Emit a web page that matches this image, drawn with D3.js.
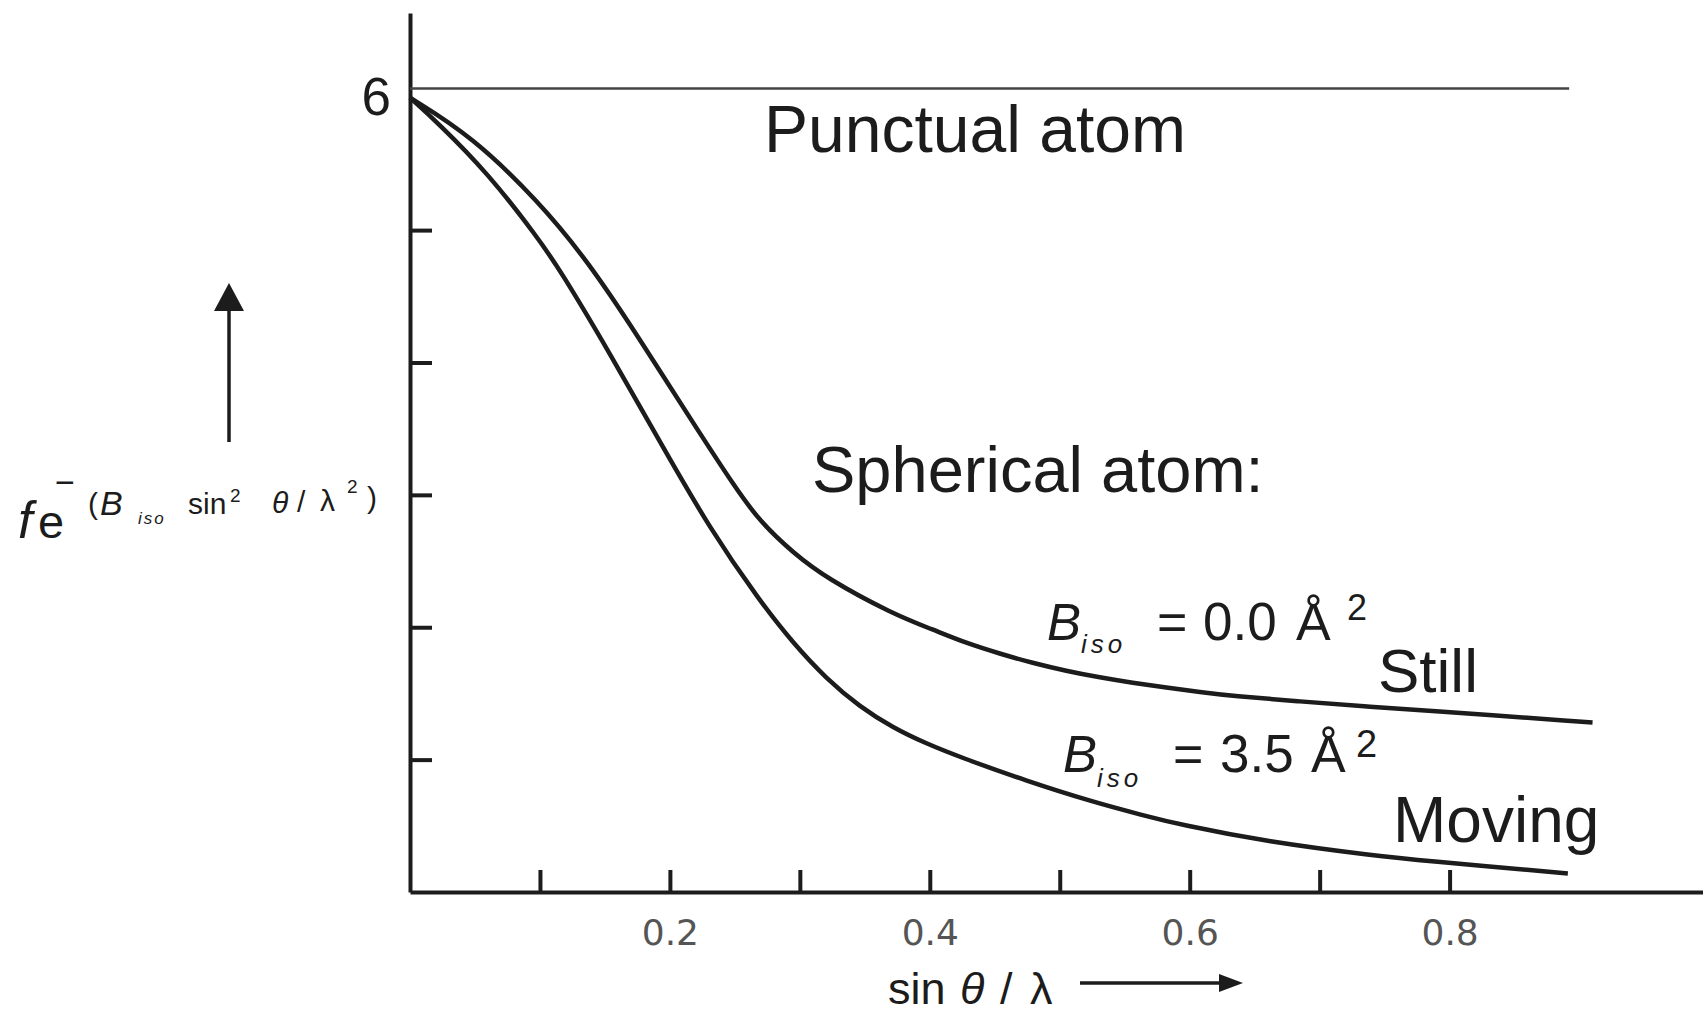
<!DOCTYPE html>
<html>
<head>
<meta charset="utf-8">
<script src="https://cdnjs.cloudflare.com/ajax/libs/d3/7.8.5/d3.min.js"></script>
<style>
  body { margin: 0; background: #fff; }
  svg { display: block; font-family: "Liberation Sans", Arial, sans-serif; }
</style>
</head>
<body>
<div class="chart"></div>
<script>
// values (x = sin theta / lambda, y = f e^-(B sin^2/l^2))
var xTicks = [0.1, 0.2, 0.3, 0.4, 0.5, 0.6, 0.7, 0.8];
var xTickLabels = ["", "0.2", "", "0.4", "", "0.6", "", "0.8"];
var yTicks = [1, 2, 3, 4, 5, 6];
var yTickLabels = ["", "", "", "", "", "6"];

// punctual atom, constant
var punctX = [0, 0.892];
var punctY = [6.07, 6.07];

// B_iso = 0.0 (still)
var stillX = [0, 0.0475, 0.0987, 0.1372, 0.174, 0.218, 0.2513, 0.2692, 0.295, 0.3205, 0.3715, 0.403, 0.428, 0.454, 0.479, 0.505, 0.531, 0.556, 0.582, 0.608, 0.633, 0.685, 0.736, 0.777, 0.91];
var stillY = [6, 5.71, 5.22, 4.76, 4.22, 3.54, 3.04, 2.80, 2.56, 2.37, 2.10, 1.98, 1.88, 1.80, 1.73, 1.67, 1.62, 1.58, 1.545, 1.51, 1.48, 1.44, 1.40, 1.375, 1.28];

// B_iso = 3.5 (moving)
var movingX = [0, 0.0215, 0.06, 0.0985, 0.1154, 0.1538, 0.1923, 0.231, 0.269, 0.2948, 0.3205, 0.346, 0.3718, 0.3975, 0.423, 0.474, 0.5256, 0.564, 0.592, 0.659, 0.746, 0.777, 0.891];
var movingY = [6, 5.81, 5.43, 4.94, 4.70, 4.07, 3.40, 2.74, 2.20, 1.88, 1.61, 1.40, 1.24, 1.12, 1.02, 0.84, 0.68, 0.58, 0.51, 0.38, 0.27, 0.24, 0.14];

var svgWidth = 1703;
var svgHeight = 1018;
var ink = "#1c1c1c";

var svg = d3.select(".chart")
  .append("svg")
  .attr("width", svgWidth)
  .attr("height", svgHeight);

// scales
var xScale = d3.scaleLinear().domain([0, 0.995]).range([410, 1703]);
var yScale = d3.scaleLinear().domain([0, 6.64]).range([892, 13]);

// axes
var xAxis = d3.axisBottom(xScale)
  .tickValues(xTicks)
  .tickSizeInner(-22)
  .tickSizeOuter(0)
  .tickPadding(27)
  .tickFormat((d, i) => xTickLabels[i]);

var yAxis = d3.axisLeft(yScale)
  .tickValues(yTicks)
  .tickSizeInner(-22)
  .tickSizeOuter(0)
  .tickPadding(19)
  .tickFormat((d, i) => yTickLabels[i]);

var gx = svg.append("g")
  .attr("transform", `translate(0, ${yScale(0)})`)
  .call(xAxis);

var gy = svg.append("g")
  .attr("transform", `translate(${xScale(0)}, 0)`)
  .call(yAxis);

[gx, gy].forEach(g => {
  g.select(".domain").attr("stroke", ink).attr("stroke-width", 4);
  g.selectAll(".tick line").attr("stroke", ink).attr("stroke-width", 4);
});

gx.selectAll(".tick text")
  .attr("fill", "#555")
  .attr("font-family", "DejaVu Sans")
  .attr("font-size", 36);

// no tick mark at 6, only the label
gy.selectAll(".tick").filter(d => d === 6).select("line").remove();
gy.selectAll(".tick text")
  .attr("fill", ink)
  .attr("font-size", 53);

// lines
var line = d3.line()
  .x(d => xScale(d[0]))
  .y(d => yScale(d[1]))
  .curve(d3.curveBasis);

svg.append("path")
  .datum(d3.zip(punctX, punctY))
  .attr("d", line)
  .attr("fill", "none")
  .attr("stroke", "#444")
  .attr("stroke-width", 2.5);

svg.append("path")
  .datum(d3.zip(stillX, stillY))
  .attr("d", line)
  .attr("fill", "none")
  .attr("stroke", ink)
  .attr("stroke-width", 4.5);

svg.append("path")
  .datum(d3.zip(movingX, movingY))
  .attr("d", line)
  .attr("fill", "none")
  .attr("stroke", ink)
  .attr("stroke-width", 4.5);

// labels inside the plot
function label(txt, x, y, size) {
  return svg.append("text")
    .attr("x", x)
    .attr("y", y)
    .attr("font-size", size)
    .attr("fill", ink)
    .text(txt);
}

label("Punctual atom", 764, 152, 66);
label("Spherical atom:", 812, 492, 65);
label("Still", 1378, 692, 62);
label("Moving", 1393, 842, 64);

// B_iso = ... labels, built from parts
function bLabel(parts) {
  var t = svg.append("text").attr("fill", ink);
  parts.forEach(p => {
    t.append("tspan")
      .attr("x", p[1])
      .attr("y", p[2])
      .attr("font-size", p[3])
      .attr("font-style", p[4] ? "italic" : "normal")
      .attr("letter-spacing", p[5] || 0)
      .text(p[0]);
  });
  return t;
}

bLabel([
  ["B", 1047, 640, 51, true],
  ["iso", 1081, 653, 26, true, 4],
  ["=", 1157, 640, 52],
  ["0.0", 1203, 640, 53],
  ["Å", 1296, 640, 52],
  ["2", 1347, 620, 36]
]);

bLabel([
  ["B", 1063, 772, 51, true],
  ["iso", 1097, 787, 26, true, 4],
  ["=", 1173, 772, 52],
  ["3.5", 1220, 772, 53],
  ["Å", 1311, 772, 52],
  ["2", 1356, 757, 38]
]);

// y axis title: f e^-(B_iso sin^2 theta / lambda^2)
bLabel([
  ["f", 18, 538, 52, true],
  ["e", 38, 538, 47],
  ["\u2212", 55, 494, 34],
  ["(", 88, 514, 30],
  ["B", 100, 515, 34, true],
  ["iso", 138, 524, 17, true, 2],
  ["sin", 188, 514, 30],
  ["2", 230, 502, 19],
  ["\u03b8", 272, 513, 30, true],
  ["/", 297, 512, 30],
  ["\u03bb", 320, 511, 30],
  ["2", 347, 493, 19],
  [")", 367, 508, 30]
]);

// x axis title
bLabel([
  ["sin", 888, 1004, 45],
  ["\u03b8", 960, 1004, 45, true],
  ["/", 1000, 1004, 45],
  ["\u03bb", 1030, 1004, 45]
]);

// arrows next to the titles
svg.append("line")
  .attr("x1", 229).attr("y1", 442)
  .attr("x2", 229).attr("y2", 300)
  .attr("stroke", ink).attr("stroke-width", 3.5);
svg.append("path")
  .attr("d", "M229,283 L214,311 L244,311 Z")
  .attr("fill", ink);

svg.append("line")
  .attr("x1", 1080).attr("y1", 983)
  .attr("x2", 1226).attr("y2", 983)
  .attr("stroke", ink).attr("stroke-width", 3.5);
svg.append("path")
  .attr("d", "M1243,983 L1219,974 L1219,992 Z")
  .attr("fill", ink);
</script>
</body>
</html>
